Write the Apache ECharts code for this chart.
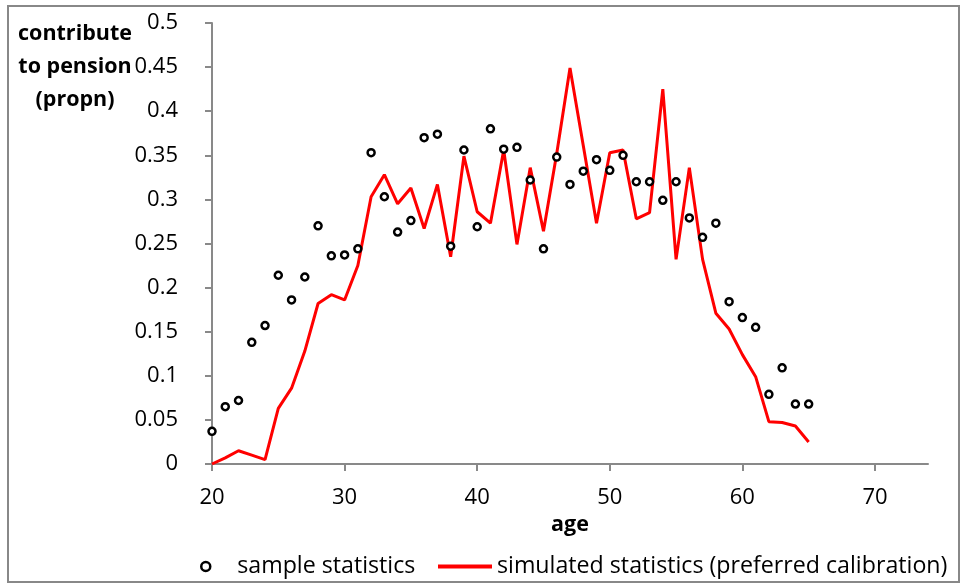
<!DOCTYPE html>
<html>
<head>
<meta charset="utf-8">
<script src="https://cdn.jsdelivr.net/npm/echarts@6/dist/echarts.min.js"></script>
<style>
html,body{margin:0;padding:0;background:#fff;}
#c{width:961px;height:585px;}
</style>
</head>
<body>
<div id="c"></div>
<script>
const ages = [20,21,22,23,24,25,26,27,28,29,30,31,32,33,34,35,36,37,38,39,40,41,42,43,44,45,46,47,48,49,50,51,52,53,54,55,56,57,58,59,60,61,62,63,64,65];
const sampleStats = [0.037,0.065,0.072,0.138,0.157,0.214,0.186,0.212,0.270,0.236,0.237,0.244,0.353,0.303,0.263,0.276,0.370,0.374,0.247,0.356,0.269,0.380,0.357,0.359,0.322,0.244,0.348,0.317,0.332,0.345,0.333,0.350,0.320,0.320,0.299,0.320,0.279,0.257,0.273,0.184,0.166,0.155,0.079,0.109,0.068,0.068];
const simulatedStats = [0,0.007,0.015,0.010,0.005,0.063,0.086,0.128,0.182,0.192,0.186,0.225,0.303,0.328,0.295,0.313,0.267,0.317,0.235,0.349,0.286,0.273,0.356,0.249,0.336,0.264,0.352,0.449,0.361,0.273,0.353,0.356,0.278,0.285,0.425,0.232,0.336,0.232,0.171,0.153,0.124,0.099,0.048,0.047,0.043,0.025];
const xTicks = [20,30,40,50,60,70];
const yTitle = "contribute\nto pension\n(propn)";
const xTitle = "age";
const seriesNames = ["sample statistics","simulated statistics (preferred calibration)"];

const FONT = "Open Sans";
const chart = echarts.init(document.getElementById('c'), null, {renderer:'canvas'});
const samplePts = ages.map((a,i)=>[a, sampleStats[i]]);
const simPts = ages.map((a,i)=>[a, simulatedStats[i]]);
const axisGray = '#898989';

chart.setOption({
  backgroundColor:'#fff',
  animation:false,
  textStyle:{fontFamily:FONT},
  title:{
    text:yTitle,
    left:70, top:12,
    textAlign:'center',
    textStyle:{fontFamily:FONT, fontWeight:'bold', fontSize:21.5, lineHeight:33, color:'#000', align:'center'}
  },
  graphic:[{
    type:'rect', silent:true,
    shape:{x:8, y:6, width:951, height:576},
    style:{fill:'none', stroke:'#888', lineWidth:2}
  }],
  grid:{left:212, right:33, top:23, bottom:121, containLabel:false},
  legend:[{
    data:[{name:seriesNames[0], icon:'circle', itemStyle:{color:'#fff', borderColor:'#000', borderWidth:2.5}}],
    left:195, top:550, itemWidth:9, itemHeight:9, itemGap:10,
    textStyle:{fontFamily:FONT, fontSize:23.2, color:'#000', padding:[0,0,0,22]}
  },{
    data:[{name:seriesNames[1], icon:'rect', itemStyle:{color:'#ff0000'}}],
    left:433, top:550, itemWidth:54, itemHeight:4,
    textStyle:{fontFamily:FONT, fontSize:23.2, color:'#000', padding:[0,0,0,0]}
  }],
  xAxis:{
    type:'value', min:20, max:74, interval:10,
    name:xTitle, nameLocation:'middle', nameGap:48,
    nameTextStyle:{fontFamily:FONT, fontWeight:'bold', fontSize:21.5, color:'#000'},
    axisLine:{show:true, lineStyle:{color:axisGray, width:2}},
    axisTick:{show:true, length:7, customValues:xTicks, lineStyle:{color:axisGray, width:2}},
    axisLabel:{customValues:xTicks, margin:23, fontFamily:FONT, fontSize:22, color:'#000'},
    splitLine:{show:false}
  },
  yAxis:{
    type:'value', min:0, max:0.5, interval:0.05,
    axisLine:{show:true, lineStyle:{color:axisGray, width:2}},
    axisTick:{show:true, length:7, lineStyle:{color:axisGray, width:2}},
    axisLabel:{margin:34, fontFamily:FONT, fontSize:22, color:'#000', formatter:v=>String(+v.toFixed(2))},
    splitLine:{show:false}
  },
  series:[{
    name:seriesNames[1], type:'line', data:simPts, showSymbol:false, symbol:'none',
    lineStyle:{color:'#ff0000', width:3}, itemStyle:{color:'#ff0000'}, z:2
  },{
    name:seriesNames[0], type:'scatter', data:samplePts, symbol:'circle', symbolSize:7,
    itemStyle:{color:'#fff', borderColor:'#000', borderWidth:2.5, opacity:1}, z:3
  }]
});
</script>
</body>
</html>
